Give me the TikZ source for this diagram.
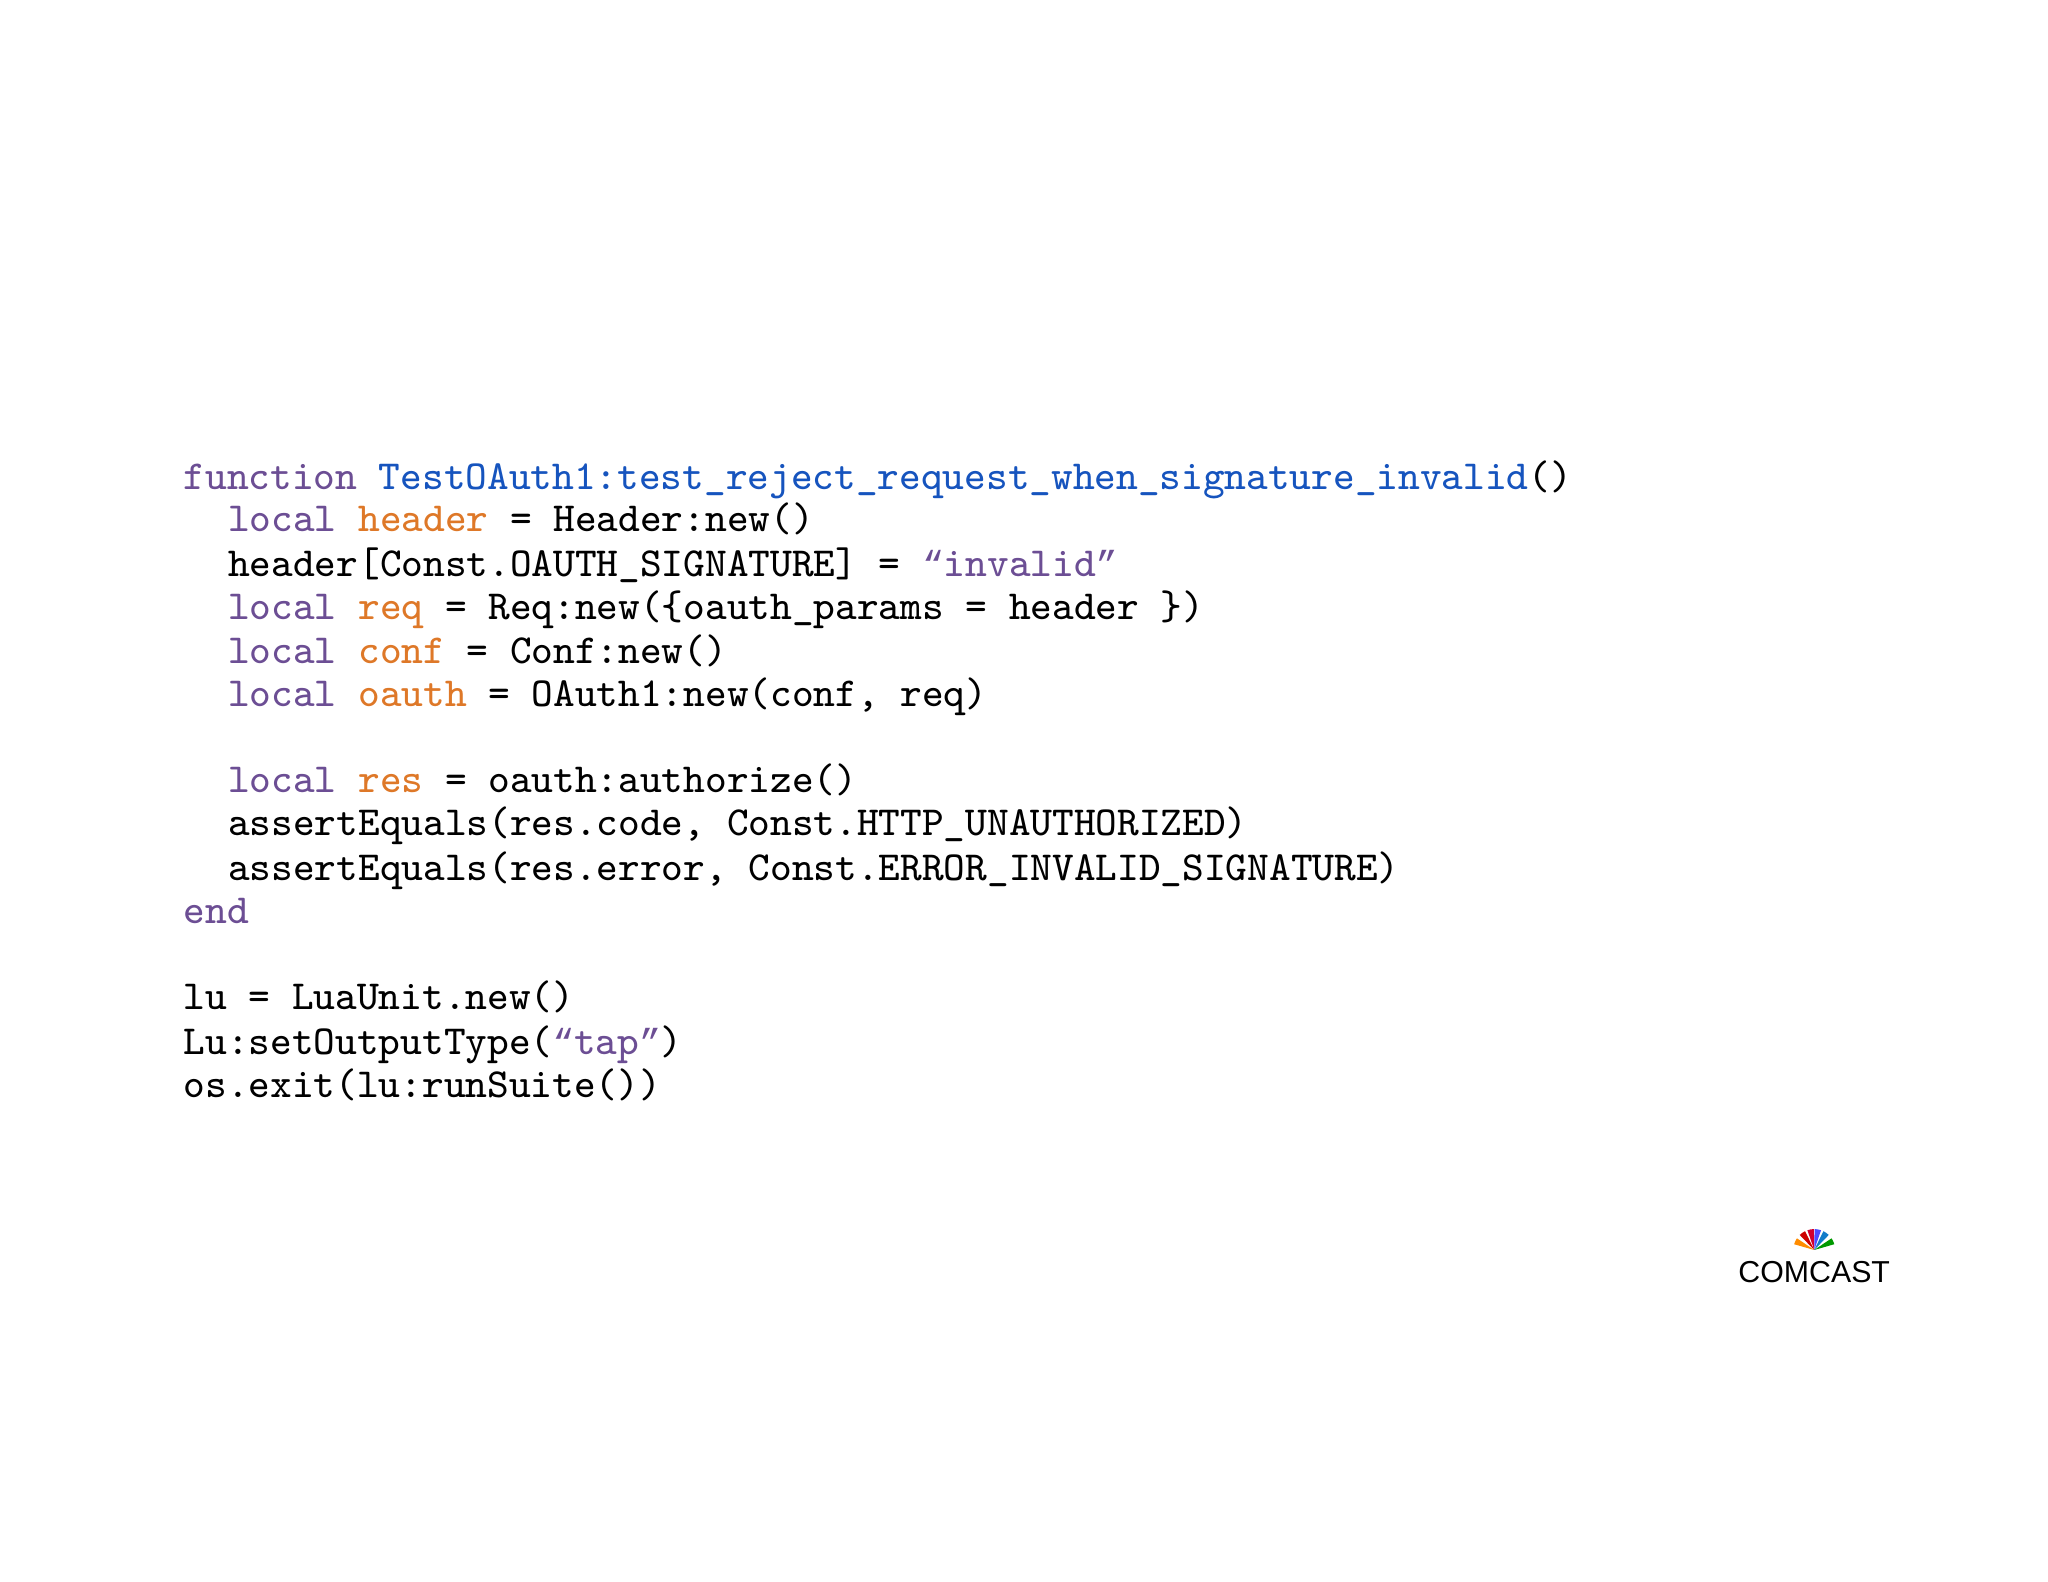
\documentclass[tikz,border=0pt]{standalone}
\usepackage{fontspec}
\setsansfont{Liberation Sans}
\newfontfamily\qfont{Liberation Mono}
\newcommand{\myLQ}{{\qfont\fontsize{7.875}{9}\selectfont “}}
\newcommand{\myRQ}{{\qfont\fontsize{7.875}{9}\selectfont ”}}
\definecolor{kw}{RGB}{108,78,148}
\definecolor{vr}{RGB}{222,120,40}
\definecolor{fn}{RGB}{22,84,190}
\tikzset{code/.style={anchor=base west,inner sep=0pt,font=\ttfamily\fontsize{9.0}{10}\selectfont}}
\begin{document}
\begin{tikzpicture}
\useasboundingbox (0,0) rectangle (15.68,12.11);
\def\ya{12.11}
\node[code] (l1) at (1.40,{\ya-3.75}) {\textcolor{kw}{function} \textcolor{fn}{TestOAuth1:test\_reject\_request\_when\_signature\_invalid}()};
\node[code] (l2) at (1.74,{\ya-4.07}) {\textcolor{kw}{local} \textcolor{vr}{header} = Header:new()};
\node[code] (l3) at (1.74,{\ya-4.41}) {header[Const.OAUTH\_SIGNATURE] = \textcolor{kw}{\myLQ invalid\myRQ}};
\node[code] (l4) at (1.74,{\ya-4.74}) {\textcolor{kw}{local} \textcolor{vr}{req} = Req:new(\{oauth\_params = header \})};
\node[code] (l5) at (1.74,{\ya-5.08}) {\textcolor{kw}{local} \textcolor{vr}{conf} = Conf:new()};
\node[code] (l6) at (1.74,{\ya-5.41}) {\textcolor{kw}{local} \textcolor{vr}{oauth} = OAuth1:new(conf, req)};
\node[code] (l7) at (1.74,{\ya-6.07}) {\textcolor{kw}{local} \textcolor{vr}{res} = oauth:authorize()};
\node[code] (l8) at (1.74,{\ya-6.40}) {assertEquals(res.code, Const.HTTP\_UNAUTHORIZED)};
\node[code] (l9) at (1.74,{\ya-6.74}) {assertEquals(res.error, Const.ERROR\_INVALID\_SIGNATURE)};
\node[code] (l10) at (1.40,{\ya-7.07}) {\textcolor{kw}{end}};
\node[code] (l11) at (1.40,{\ya-7.73}) {lu = LuaUnit.new()};
\node[code] (l12) at (1.40,{\ya-8.07}) {Lu:setOutputType(\textcolor{kw}{\myLQ tap\myRQ})};
\node[code] (l13) at (1.40,{\ya-8.40}) {os.exit(lu:runSuite())};
% Comcast logo
\coordinate (pc) at (13.89,{\ya-9.57});
\foreach \ang/\col in {155/orange!90!yellow,125/red!80!black,100/purple!70!red,80/blue!70,55/cyan!60!blue,25/green!60!black}{
  \fill[\col] (pc) -- ++(\ang-9:0.16) arc[start angle=\ang-9,end angle=\ang+9,radius=0.16] -- cycle;
}
\node[font=\sffamily\fontsize{6.6}{7}\selectfont,inner sep=0pt] (logo) at (13.89,{\ya-9.74}) {COMCAST};
\end{tikzpicture}
\end{document}
